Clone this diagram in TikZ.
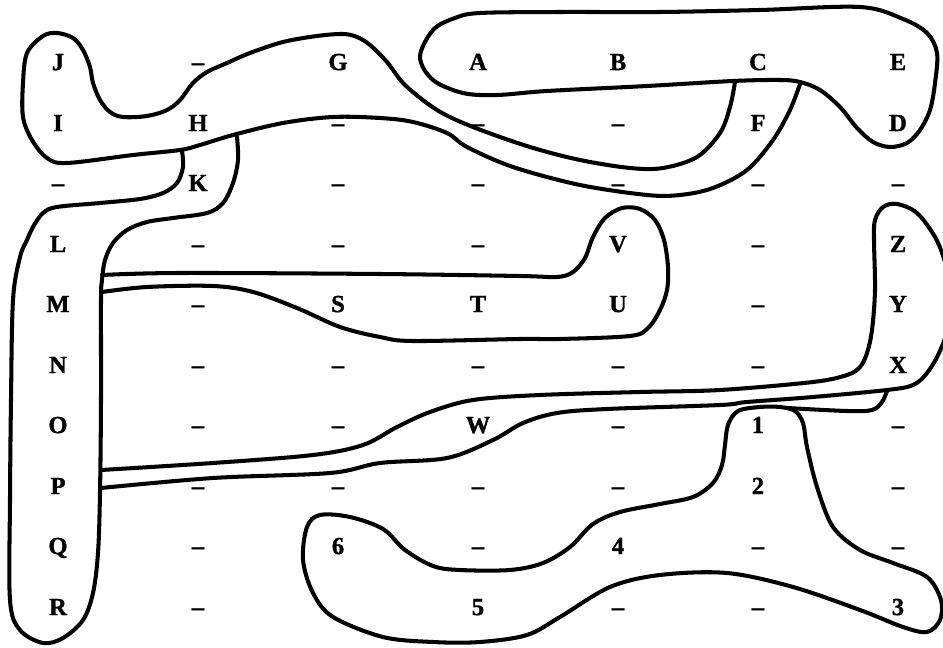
\documentclass[tikz,border=0pt]{standalone}
\usepackage{fontspec}
\setmainfont{Liberation Serif}[BoldFeatures={FakeBold=1.2}]
\usepackage{tikz}

\begin{document}
\begin{tikzpicture}[
  x=0.02cm, y=-0.02cm,
  cell/.style={font=\bfseries\fontsize{14}{16}\selectfont, inner sep=0pt, text height=9.2pt, text depth=0pt},
  outline/.style={line width=2.3pt, line join=round, line cap=round}
]
% Picture frame in pixel units of the reference.
\clip (0,0) rectangle (943,648);
\fill[white] (0,0) rectangle (943,648);

% Grid of entries: columns 58 + 140*i, rows about 60.5 apart.
\node[cell] (J) at (58,62) {J};   \node[cell] (d01) at (198,62) {–}; \node[cell] (G) at (338,62) {G};
\node[cell] (A) at (478,62) {A};  \node[cell] (B) at (618,62) {B};   \node[cell] (C) at (758,62) {C};
\node[cell] (E) at (898,62) {E};

\node[cell] (I) at (58,123) {I};  \node[cell] (H) at (198,123) {H};  \node[cell] (d12) at (338,123) {–};
\node[cell] (d13) at (478,123) {–}; \node[cell] (d14) at (618,123) {–}; \node[cell] (F) at (758,123) {F};
\node[cell] (D) at (898,123) {D};

\node[cell] (d20) at (58,183) {–}; \node[cell] (K) at (198,183) {K}; \node[cell] (d22) at (338,183) {–};
\node[cell] (d23) at (478,183) {–}; \node[cell] (d24) at (618,183) {–}; \node[cell] (d25) at (758,183) {–};
\node[cell] (d26) at (898,183) {–};

\node[cell] (L) at (58,244) {L};  \node[cell] (d31) at (198,244) {–}; \node[cell] (d32) at (338,244) {–};
\node[cell] (d33) at (478,244) {–}; \node[cell] (V) at (618,244) {V}; \node[cell] (d35) at (758,244) {–};
\node[cell] (Z) at (898,244) {Z};

\node[cell] (M) at (58,304) {M};  \node[cell] (d41) at (198,304) {–}; \node[cell] (S) at (338,304) {S};
\node[cell] (T) at (478,304) {T};  \node[cell] (U) at (618,304) {U}; \node[cell] (d45) at (758,304) {–};
\node[cell] (Y) at (898,304) {Y};

\node[cell] (N) at (58,365) {N};  \node[cell] (d51) at (198,365) {–}; \node[cell] (d52) at (338,365) {–};
\node[cell] (d53) at (478,365) {–}; \node[cell] (d54) at (618,365) {–}; \node[cell] (d55) at (758,365) {–};
\node[cell] (X) at (898,365) {X};

\node[cell] (O) at (58,425) {O};  \node[cell] (d61) at (198,425) {–}; \node[cell] (d62) at (338,425) {–};
\node[cell] (W) at (478,425) {W};  \node[cell] (d64) at (618,425) {–}; \node[cell] (n1) at (758,425) {1};
\node[cell] (d66) at (898,425) {–};

\node[cell] (P) at (58,486) {P};  \node[cell] (d71) at (198,486) {–}; \node[cell] (d72) at (338,486) {–};
\node[cell] (d73) at (478,486) {–}; \node[cell] (d74) at (618,486) {–}; \node[cell] (n2) at (758,486) {2};
\node[cell] (d76) at (898,486) {–};

\node[cell] (Q) at (58,546) {Q};  \node[cell] (d81) at (198,546) {–}; \node[cell] (n6) at (338,546) {6};
\node[cell] (d83) at (478,546) {–}; \node[cell] (n4) at (618,546) {4}; \node[cell] (d85) at (758,546) {–};
\node[cell] (d86) at (898,546) {–};

\node[cell] (R) at (58,607) {R};  \node[cell] (d91) at (198,607) {–};
\node[cell] (n5) at (478,607) {5};  \node[cell] (d94) at (618,607) {–}; \node[cell] (d95) at (758,607) {–};
\node[cell] (n3) at (898,607) {3};

% A-B-C-E-D loop
\draw[outline] plot[smooth cycle, tension=0.55] coordinates {
  (480,13) (560,12) (660,12) (760,10) (860,7) (903,19) (927,33) (937,53) (935,83) (930,110)
  (920,130) (907,143) (890,147) (873,142) (857,128) (840,107) (820,90) (800,82) (780,80)
  (733,81) (647,86) (547,91) (497,95) (463,93) (433,80) (420,57) (433,30) (455,18)};

% H line, round J, over G and back under A to C
\draw[outline] plot[smooth, tension=0.55] coordinates {
  (800,84) (790,110) (773,140) (747,170) (713,188) (680,195) (647,195) (580,185) (513,167)
  (467,147) (447,133) (413,122) (380,118) (333,117) (283,123) (233,135) (200,145) (180,150)
  (133,155) (67,163) (47,158) (32,140) (23,117) (23,83) (27,53) (43,36) (57,33) (73,38)
  (83,50) (90,67) (93,83) (100,100) (110,112) (123,117) (147,116) (167,110) (180,100)
  (193,83) (207,72) (227,63) (250,53) (283,42) (317,36) (343,34) (357,37) (370,45) (387,62)
  (405,85) (437,110) (473,127) (530,147) (580,160) (630,168) (663,168) (697,157) (720,133)
  (730,107) (735,82)};

% K and the L..R column
\draw[outline] plot[smooth, tension=0.55] coordinates {
  (182,151) (183,167) (177,183) (163,193) (140,199) (100,203) (57,207) (43,213) (33,227)
  (27,240) (20,257) (13,300) (11,400) (10,500) (10,600) (20,630) (43,643) (63,638) (83,620)
  (93,593) (98,553) (100,493) (101,400) (101,300) (102,280) (105,260) (113,243) (127,230)
  (147,222) (173,218) (207,213) (223,203) (233,183) (238,160) (237,137)};

% band from M to S, T, U, V
\draw[outline] plot[smooth, tension=0.55] coordinates {
  (102,275) (180,273) (380,274) (520,276) (557,277) (573,272) (585,258) (593,237) (605,218)
  (622,208) (640,209) (655,220) (664,240) (668,267) (667,290) (660,310) (648,328) (630,336)
  (560,339) (520,339) (413,341) (380,337) (340,327) (297,308) (253,292) (213,286) (147,287)
  (102,292)};

% band from P past W to Z, Y, X
\draw[outline] plot[smooth, tension=0.55] coordinates {
  (101,470) (213,463) (313,455) (363,445) (397,427) (430,412) (473,400) (540,395) (640,392)
  (720,390) (813,382) (847,375) (860,367) (867,353) (872,330) (875,290) (874,240) (875,220)
  (883,207) (897,204) (917,213) (935,237) (945,262) (951,292) (949,325) (939,353) (927,373)
  (913,385) (887,390) (813,397) (747,402) (720,405) (607,409) (557,413) (523,423) (493,440)
  (447,458) (380,463) (330,473) (213,478) (101,488)};

% 1-2-3-4-5-6 shape and its tail to X
\draw[outline] plot[smooth cycle, tension=0.55] coordinates {
  (760,407) (738,411) (728,425) (725,445) (722,465) (713,483) (693,497) (660,504) (620,512)
  (593,524) (570,547) (543,563) (510,570) (460,570) (433,566) (405,550) (383,529) (350,517)
  (320,515) (307,527) (303,560) (313,593) (333,617) (383,637) (433,642) (480,642) (527,635)
  (560,617) (610,587) (660,575) (727,573) (793,587) (860,610) (903,627) (927,632) (940,620)
  (941,600) (927,577) (893,563) (860,550) (833,527) (817,487) (807,447) (803,423) (795,411)
  (780,407)};
\draw[outline] plot[smooth, tension=0.55] coordinates {
  (787,408) (847,411) (872,410) (882,402) (887,391)};

\end{tikzpicture}
\end{document}
